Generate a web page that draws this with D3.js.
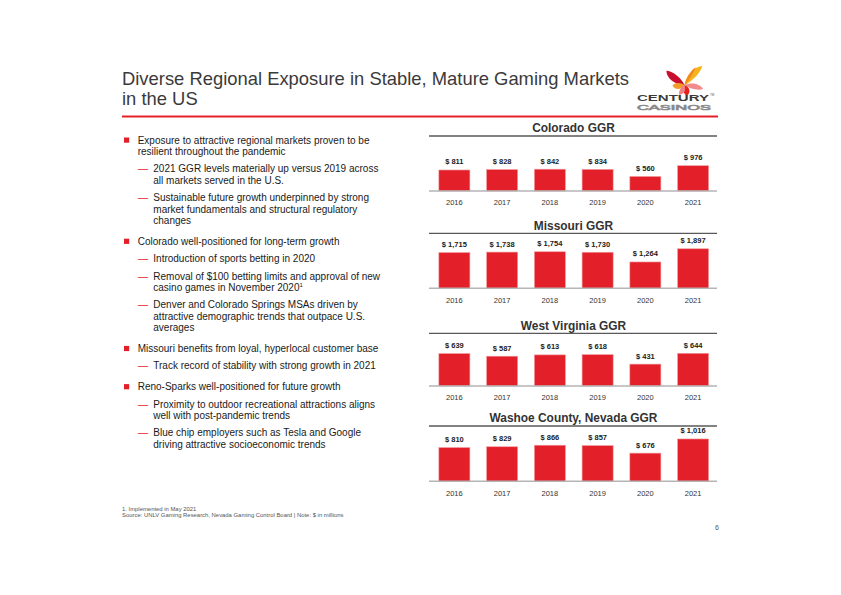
<!DOCTYPE html>
<html>
<head>
<meta charset="utf-8">
<script src="https://cdn.jsdelivr.net/npm/d3@7"></script>
<style>
  html, body { margin: 0; padding: 0; background: #fff; }
  svg { display: block; font-family: "Liberation Sans", Arial, sans-serif; }
</style>
</head>
<body>
<svg width="841" height="595"></svg>
<script>
// data ($ in millions)
const years = ["2016", "2017", "2018", "2019", "2020", "2021"];
const chartTitles = ["Colorado GGR", "Missouri GGR", "West Virginia GGR", "Washoe County, Nevada GGR"];
const colorado = [811, 828, 842, 834, 560, 976];
const missouri = [1715, 1738, 1754, 1730, 1264, 1897];
const westVirginia = [639, 587, 613, 618, 431, 644];
const washoe = [810, 829, 866, 857, 676, 1016];
const axisMax = [1930, 2400, 985, 1200];
const series = [colorado, missouri, westVirginia, washoe];

const titleLines = ["Diverse Regional Exposure in Stable, Mature Gaming Markets", "in the US"];

const bullets = [
  { level: 0, lines: ["Exposure to attractive regional markets proven to be", "resilient throughout the pandemic"] },
  { level: 1, lines: ["2021 GGR levels materially up versus 2019 across", "all markets served in the U.S."] },
  { level: 1, lines: ["Sustainable future growth underpinned by strong", "market fundamentals and structural regulatory", "changes"] },
  { level: 0, lines: ["Colorado well-positioned for long-term growth"] },
  { level: 1, lines: ["Introduction of sports betting in 2020"] },
  { level: 1, lines: ["Removal of $100 betting limits and approval of new", "casino games in November 2020"], sup: "1" },
  { level: 1, lines: ["Denver and Colorado Springs MSAs driven by", "attractive demographic trends that outpace U.S.", "averages"] },
  { level: 0, lines: ["Missouri benefits from loyal, hyperlocal customer base"] },
  { level: 1, lines: ["Track record of stability with strong growth in 2021"] },
  { level: 0, lines: ["Reno-Sparks well-positioned for future growth"] },
  { level: 1, lines: ["Proximity to outdoor recreational attractions aligns", "well with post-pandemic trends"] },
  { level: 1, lines: ["Blue chip employers such as Tesla and Google", "driving attractive socioeconomic trends"] },
];

const footnotes = ["1. Implemented in May 2021", "Source: UNLV Gaming Research, Nevada Gaming Control Board | Note: $ in millions"];

// layout
const red = "#e3202a";
const chartLeft = 430.5, chartRight = 717;
const chartTop = [136, 233.3, 333.3, 426];
const chartBase = [191, 288.3, 386, 481.3];
const plotHeight = 50;

const svg = d3.select("svg");

// slide title + rule
svg.append("g")
  .selectAll("text")
  .data(titleLines)
  .enter()
  .append("text")
  .attr("x", 122)
  .attr("y", (d, i) => 84.5 + i * 20)
  .attr("font-size", 18.4)
  .attr("fill", "#3a3a3a")
  .text((d) => d);

svg.append("rect")
  .attr("x", 122).attr("y", 115.5)
  .attr("width", 596).attr("height", 2)
  .attr("fill", red);

drawLogo();
drawBullets();

series.forEach((values, i) => drawChart(values, i));

// footnotes + page number
svg.append("g")
  .selectAll("text")
  .data(footnotes)
  .enter()
  .append("text")
  .attr("x", 122)
  .attr("y", (d, i) => 511 + i * 6.3)
  .attr("font-size", 5.9)
  .attr("fill", "#555")
  .text((d) => d);

svg.append("text")
  .attr("x", 719).attr("y", 530)
  .attr("text-anchor", "end")
  .attr("font-size", 7)
  .attr("fill", "#555")
  .text("6");

function drawChart(values, i) {
  const base = chartBase[i];
  const xScale = d3.scaleBand()
    .domain(years)
    .range([chartLeft, chartRight])
    .paddingInner(0.35)
    .paddingOuter(0.175);
  const yScale = d3.scaleLinear()
    .domain([0, axisMax[i]])
    .range([base, base - plotHeight]);

  const g = svg.append("g").attr("class", "chart");

  g.append("text")
    .attr("x", 573.5)
    .attr("y", chartTop[i] - 3.8)
    .attr("text-anchor", "middle")
    .attr("font-size", 11.9)
    .attr("font-weight", "bold")
    .attr("fill", "#333")
    .text(chartTitles[i]);

  g.append("line")
    .attr("x1", 429).attr("x2", 717)
    .attr("y1", chartTop[i]).attr("y2", chartTop[i])
    .attr("stroke", "#595959")
    .attr("stroke-width", 1.3);

  g.selectAll("rect")
    .data(values)
    .enter()
    .append("rect")
    .attr("x", (d, j) => xScale(years[j]))
    .attr("y", (d) => yScale(d))
    .attr("width", xScale.bandwidth())
    .attr("height", (d) => base - yScale(d))
    .attr("fill", red)
    .attr("stroke", "#f29a9e")
    .attr("stroke-width", 0.6);

  g.selectAll(".value")
    .data(values)
    .enter()
    .append("text")
    .attr("class", "value")
    .attr("x", (d, j) => xScale(years[j]) + xScale.bandwidth() / 2)
    .attr("y", (d) => yScale(d) - 5.5)
    .attr("text-anchor", "middle")
    .attr("font-size", 7.5)
    .attr("font-weight", "bold")
    .attr("fill", "#222")
    .text((d) => "$ " + d3.format(",")(d));

  // category axis
  const axis = g.append("g")
    .attr("transform", `translate(0,${base})`)
    .call(d3.axisBottom(xScale).tickSize(0).tickPadding(9));
  axis.select(".domain")
    .attr("d", `M429,0H717`)
    .attr("stroke", "#b5b5b5")
    .attr("stroke-width", 1.5);
  axis.selectAll("text")
    .attr("font-family", "Liberation Sans, Arial, sans-serif")
    .attr("font-size", 7.5)
    .attr("fill", "#333");
}

function drawBullets() {
  const g = svg.append("g").attr("font-size", 10).attr("fill", "#1a1a1a");
  let y = 143.5;
  bullets.forEach((b, k) => {
    if (k > 0) y += b.level == 0 ? 20.8 : 17.4;
    if (b.level == 0) {
      g.append("rect")
        .attr("x", 124).attr("y", y - 6)
        .attr("width", 5.2).attr("height", 5.2)
        .attr("fill", red);
    } else {
      g.append("text")
        .attr("x", 138).attr("y", y)
        .attr("fill", red)
        .text("\u2014");
    }
    const tx = b.level == 0 ? 137.7 : 153.3;
    b.lines.forEach((line, n) => {
      if (n > 0) y += 11.4;
      const t = g.append("text").attr("x", tx).attr("y", y).text(line);
      if (b.sup && n == b.lines.length - 1) {
        t.append("tspan")
          .attr("font-size", 6)
          .attr("dy", -3.5)
          .text(b.sup);
      }
    });
  });
}

function drawLogo() {
  const logo = svg.append("g").attr("class", "logo");
  const cx = 684.5, cy = 85;
  // petals: [angle, length, width, colour]
  const petals = [
    [-142, 23, 6, "#c8102e"],
    [-47, 26, 5.5, "#f6b31b"],
    [-58, 21, 2.4, "#f08a1c"],
    [178, 12, 5, "#f39a2a"],
    [12, 19, 4.5, "#f28b8b"],
    [78, 11, 5, "#e2231a"],
    [118, 11, 4, "#f07f86"],
  ];
  logo.selectAll("path")
    .data(petals)
    .enter()
    .append("path")
    .attr("d", (p) => {
      const l = p[1], w = p[2];
      return `M0,0 C${l * 0.3},${-w} ${l * 0.8},${-w} ${l},0 C${l * 0.8},${w * 0.6} ${l * 0.3},${w * 0.6} 0,0Z`;
    })
    .attr("transform", (p) => `translate(${cx},${cy}) rotate(${p[0]})`)
    .attr("fill", (p) => p[3]);

  logo.append("text")
    .attr("x", 637).attr("y", 100.8)
    .attr("font-size", 8.6)
    .attr("font-weight", "bold")
    .attr("fill", "#3a3a3a")
    .attr("textLength", 72)
    .attr("lengthAdjust", "spacingAndGlyphs")
    .text("CENTURY");
  logo.append("text")
    .attr("x", 710).attr("y", 95.5)
    .attr("font-size", 3)
    .attr("fill", "#555")
    .text("TM");
  logo.append("text")
    .attr("x", 637).attr("y", 110.2)
    .attr("font-size", 8)
    .attr("fill", "none")
    .attr("stroke", "#8a8a8a")
    .attr("stroke-width", 0.7)
    .attr("textLength", 74)
    .attr("lengthAdjust", "spacingAndGlyphs")
    .text("CASINOS");
}
</script>
</body>
</html>
